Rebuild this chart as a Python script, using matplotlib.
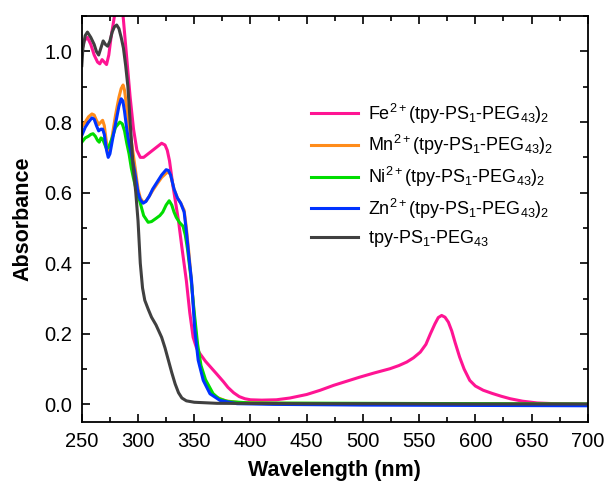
import numpy as np
import matplotlib
matplotlib.use('Agg')
import matplotlib.pyplot as plt
from matplotlib.ticker import MultipleLocator

plt.rcParams['font.family'] = ['Liberation Sans', 'DejaVu Sans']
plt.rcParams['mathtext.fontset'] = 'custom'
plt.rcParams['mathtext.rm'] = 'Liberation Sans'
plt.rcParams['mathtext.it'] = 'Liberation Sans:italic'
plt.rcParams['mathtext.bf'] = 'Liberation Sans:bold'

# Fe2+(tpy-PS1-PEG43)2
fe_wl = [250, 252, 255, 258, 261, 264, 266, 268, 270, 272, 274, 276, 278, 280, 283, 285, 287, 290,
         293, 296, 299, 302, 305, 309, 313, 317, 321, 324, 326, 328, 331, 334, 336, 339, 343, 346,
         349, 352, 355, 360, 365, 370, 376, 380, 385, 390, 395, 400, 410, 423, 435, 450, 462, 474,
         486, 497, 510, 524, 532, 539, 545, 551, 556, 560, 564, 567, 570, 573, 576, 579, 582, 586,
         590, 595, 600, 607, 615, 623, 631, 642, 655, 670, 685, 700]
fe_abs = [1.00, 1.03, 1.04, 1.02, 0.99, 0.97, 0.965, 0.977, 0.97, 0.963, 0.99, 1.04, 1.08, 1.12,
          1.16, 1.15, 1.09, 0.98, 0.87, 0.78, 0.72, 0.70, 0.70, 0.71, 0.72, 0.73, 0.74, 0.735,
          0.72, 0.69, 0.62, 0.56, 0.52, 0.445, 0.35, 0.26, 0.19, 0.16, 0.144, 0.122, 0.104, 0.086,
          0.064, 0.048, 0.033, 0.022, 0.016, 0.013, 0.012, 0.013, 0.018, 0.028, 0.04, 0.054, 0.066,
          0.077, 0.089, 0.101, 0.11, 0.12, 0.132, 0.148, 0.17, 0.20, 0.228, 0.246, 0.252, 0.247,
          0.233, 0.208, 0.175, 0.134, 0.10, 0.068, 0.052, 0.04, 0.031, 0.023, 0.016, 0.009, 0.004,
          0.002, 0.001, 0.0]

# Mn2+(tpy-PS1-PEG43)2
mn_wl = [250, 253, 256, 259, 261, 263, 265, 267, 268.5, 270, 272, 273.5, 275, 277, 280, 283, 285,
         286.7, 288, 290, 292, 294, 297, 300, 302, 304.5, 307, 310, 313, 317, 321, 325, 327, 329,
         332, 335, 338, 341, 343, 345.5, 348, 350.5, 353, 356, 360, 365, 370, 378, 390, 420, 500,
         600, 700]
mn_abs = [0.786, 0.80, 0.815, 0.823, 0.82, 0.805, 0.793, 0.80, 0.805, 0.79, 0.74, 0.715, 0.72,
          0.76, 0.82, 0.87, 0.895, 0.905, 0.89, 0.84, 0.79, 0.748, 0.68, 0.61, 0.585, 0.573,
          0.576, 0.59, 0.606, 0.625, 0.643, 0.655, 0.66, 0.65, 0.61, 0.585, 0.57, 0.55, 0.50,
          0.42, 0.33, 0.23, 0.15, 0.10, 0.06, 0.035, 0.02, 0.01, 0.005, 0.003, 0.002, 0.001, 0.0]

# Ni2+(tpy-PS1-PEG43)2
ni_wl = [250, 253, 256, 258, 260, 262, 264, 265.5, 267, 268.5, 270, 272, 274, 277, 280, 283.8, 286,
         288, 290, 292, 294, 296, 299, 301.6, 305, 309, 312, 316, 319.4, 322, 325, 327.7, 330, 332,
         334, 337, 340, 342, 344, 347, 350, 353, 356, 360, 366.8, 372, 380, 400, 500, 600, 700]
ni_abs = [0.743, 0.755, 0.76, 0.765, 0.767, 0.76, 0.748, 0.743, 0.755, 0.752, 0.74, 0.724, 0.73,
          0.755, 0.785, 0.80, 0.795, 0.775, 0.74, 0.71, 0.67, 0.64, 0.60, 0.575, 0.535, 0.516,
          0.518, 0.527, 0.535, 0.545, 0.565, 0.577, 0.565, 0.545, 0.53, 0.515, 0.505, 0.48, 0.44,
          0.36, 0.26, 0.17, 0.11, 0.07, 0.03, 0.016, 0.008, 0.004, 0.003, 0.002, 0.001]

# Zn2+(tpy-PS1-PEG43)2
zn_wl = [250, 253, 256, 259, 261, 263, 265, 267, 268.5, 270, 272, 273.5, 275, 277, 280, 283, 285,
         286.5, 288, 290, 292, 294, 297, 300, 302, 304.5, 307, 310, 313, 317, 321, 325, 327, 329,
         332, 335, 338, 341, 343, 345.5, 347.6, 350.5, 353.5, 358, 364, 373, 388, 420, 500, 600, 700]
zn_abs = [0.762, 0.785, 0.80, 0.812, 0.808, 0.79, 0.775, 0.78, 0.78, 0.765, 0.72, 0.70, 0.71,
          0.745, 0.795, 0.845, 0.866, 0.86, 0.83, 0.78, 0.74, 0.71, 0.66, 0.60, 0.58, 0.57,
          0.575, 0.59, 0.61, 0.63, 0.65, 0.665, 0.663, 0.65, 0.61, 0.585, 0.57, 0.545, 0.49,
          0.41, 0.35, 0.21, 0.125, 0.068, 0.03, 0.011, 0.002, 0.0, -0.002, -0.003, -0.004]

# tpy-PS1-PEG43
tpy_wl = [250, 251, 253, 255, 258, 261, 263, 265, 267, 269, 271, 273, 275, 277, 279, 281, 283, 285,
          287, 289, 291, 293, 295.5, 298, 300, 302, 304, 306, 309, 312, 316, 321, 324, 327, 330,
          333, 336, 339, 343, 350, 370, 450, 520, 600, 700]
tpy_abs = [0.96, 1.01, 1.045, 1.055, 1.04, 1.02, 1.00, 0.99, 1.01, 1.03, 1.02, 1.015, 1.03, 1.055,
           1.07, 1.075, 1.065, 1.04, 1.01, 0.96, 0.90, 0.80, 0.68, 0.60, 0.52, 0.40, 0.33, 0.295,
           0.27, 0.247, 0.225, 0.19, 0.16, 0.125, 0.09, 0.058, 0.033, 0.018, 0.01, 0.006, 0.003,
           0.002, 0.002, 0.001, 0.001]

labels = [r'Fe$^{2+}$(tpy-PS$_1$-PEG$_{43}$)$_2$',
          r'Mn$^{2+}$(tpy-PS$_1$-PEG$_{43}$)$_2$',
          r'Ni$^{2+}$(tpy-PS$_1$-PEG$_{43}$)$_2$',
          r'Zn$^{2+}$(tpy-PS$_1$-PEG$_{43}$)$_2$',
          r'tpy-PS$_1$-PEG$_{43}$']
colors = ['#ff1493', '#ff8c1a', '#00dd00', '#0033ff', '#404040']

fig = plt.figure(figsize=(6.06, 4.91), dpi=100)
ax = fig.add_axes([0.135, 0.1405, 0.835, 0.8265])

series = [(fe_wl, fe_abs), (mn_wl, mn_abs), (ni_wl, ni_abs), (zn_wl, zn_abs), (tpy_wl, tpy_abs)]
for (wl, ab), lab, c in zip(series, labels, colors):
    ax.plot(wl, ab, color=c, lw=2.2, label=lab)

ax.set_xlim(250, 700)
ax.set_ylim(-0.05, 1.1)
ax.xaxis.set_major_locator(MultipleLocator(50))
ax.xaxis.set_minor_locator(MultipleLocator(25))
ax.yaxis.set_major_locator(MultipleLocator(0.2))
ax.yaxis.set_minor_locator(MultipleLocator(0.1))
ax.yaxis.set_major_formatter(matplotlib.ticker.FormatStrFormatter('%.1f'))
ax.tick_params(which='both', direction='in', top=True, right=True, labelsize=14.5, width=1.2)
ax.tick_params(which='major', length=6, pad=7)
ax.tick_params(which='minor', length=3.5)
for s in ax.spines.values():
    s.set_linewidth(1.3)

ax.set_xlabel('Wavelength (nm)', fontsize=15.5, fontweight='bold', labelpad=7)
ax.set_ylabel('Absorbance', fontsize=15.5, fontweight='bold', labelpad=8)

ax.legend(loc='upper left', bbox_to_anchor=(0.42, 0.83), frameon=False, fontsize=13,
          handlelength=2.6, labelspacing=0.42, handletextpad=0.6)

fig.savefig('out.png', dpi=100)
